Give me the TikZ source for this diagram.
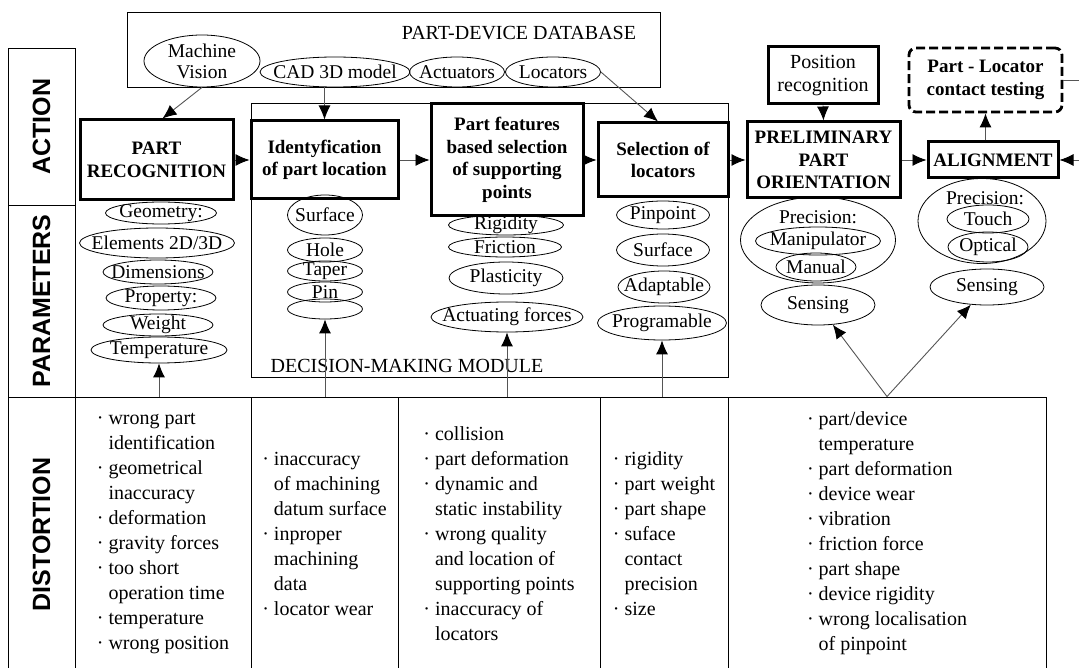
\documentclass[tikz,border=0pt]{standalone}
\usepackage{fontspec}
\setmainfont{Liberation Serif}
\newfontfamily\headfont{Liberation Sans}
\usepackage{tikz}
\usetikzlibrary{positioning, arrows.meta, shapes.geometric}
\definecolor{LineGray}{RGB}{85,85,85}
\newcommand{\dotbul}{\textperiodcentered\ }
\newcommand{\dotind}{\phantom{\textperiodcentered\ }}
\tikzstyle{rowlabel} = [rectangle, draw, line width=0.9pt, inner sep=0pt, rotate=90, font=\headfont\bfseries\fontsize{25}{28}\selectfont]
\tikzstyle{modbox} = [rectangle, draw, line width=0.9pt, inner sep=0pt]
\tikzstyle{plain} = [inner sep=0pt, font=\fontsize{20}{24}\selectfont]
\tikzstyle{action} = [rectangle, draw, line width=3pt, fill=white, inner sep=0pt, align=center, font=\bfseries\fontsize{19}{22.5}\selectfont]
\tikzstyle{testbox} = [rectangle, draw, rounded corners=7pt, line width=2.8pt, dash pattern=on 9pt off 4pt, fill=white, inner sep=0pt, align=center, font=\bfseries\fontsize{19}{22.5}\selectfont]
\tikzstyle{param} = [ellipse, draw, line width=0.8pt, inner sep=0pt]
\tikzstyle{ptxt} = [inner sep=0pt, align=center, font=\fontsize{19.5}{21}\selectfont]
\tikzstyle{cell} = [rectangle, draw, line width=0.9pt, inner sep=0pt, align=left, font=\fontsize{20}{25}\selectfont]
\tikzstyle{arrow} = [line width=0.9pt, LineGray, -{Latex[length=14pt, width=12pt, black]}]
\tikzstyle{link} = [line width=0.9pt, LineGray]

\begin{document}
\begin{tikzpicture}[x=1pt, y=-1pt]
    \useasboundingbox (0,0) rectangle (1079,668);

    % Row labels
    \node[rowlabel, minimum width=157, minimum height=67] (actlbl) at (41.5,126.5) {ACTION};
    \node[rowlabel, minimum width=192, minimum height=67] (parlbl) at (41.5,301) {PARAMETERS};
    \node[rowlabel, minimum width=275, minimum height=67] (dislbl) at (41.5,534.5) {DISTORTION};

    % Decision-making module
    \node[modbox, minimum width=477, minimum height=274] (dm) at (489.5,240) {};
    \node[plain] (dmtxt) at (407,366) {DECISION-MAKING MODULE};

    % Part-device database
    \node[modbox, minimum width=533, minimum height=75] (db) at (393.5,49.5) {};
    \node[plain] (dbtxt) at (519,33) {PART-DEVICE DATABASE};
    \node[param, minimum width=116, minimum height=52, label={[ptxt]center:Machine\\Vision}] (mv) at (202,61) {};
    \node[param, minimum width=150, minimum height=30, label={[ptxt]center:CAD 3D model}] (cad) at (335,72) {};
    \node[param, minimum width=95, minimum height=30, label={[ptxt]center:Actuators}] (actu) at (457,72) {};
    \node[param, minimum width=95, minimum height=30, label={[ptxt]center:Locators}] (loc) at (553,72) {};

    % Action boxes
    \node[action, minimum width=153, minimum height=80] (rec) at (156.5,160) {PART\\RECOGNITION};
    \node[action, minimum width=147, minimum height=78] (ident) at (324.5,160) {Identyfication\\of part location};
    \node[action, minimum width=152, minimum height=112] (feat) at (507,160) {Part features\\based selection\\of supporting\\points};
    \node[action, minimum width=130, minimum height=74] (sel) at (663,160) {Selection of\\locators};
    \node[action, minimum width=153, minimum height=76] (prel) at (823.5,160) {PRELIMINARY\\PART\\ORIENTATION};
    \node[action, minimum width=130, minimum height=36] (align) at (993,160) {ALIGNMENT};
    \node[action, minimum width=110, minimum height=57, font=\fontsize{20}{22.5}\selectfont] (pos) at (823,75.5) {Position\\recognition};
    \node[testbox, minimum width=153, minimum height=64] (test) at (985.5,80) {Part - Locator\\contact testing};

    % Parameters: geometry
    \node[param, minimum width=111, minimum height=22, label={[ptxt]center:{Geometry:}}] (geo) at (161,213) {};
    \node[param, minimum width=155, minimum height=30, label={[ptxt]center:Elements 2D/3D}] (elem) at (157,243) {};
    \node[param, minimum width=110, minimum height=24, label={[ptxt]center:Dimensions}] (dim) at (158,272) {};
    \node[param, minimum width=110, minimum height=24, label={[ptxt]center:{Property:}}] (prop) at (161,298) {};
    \node[param, minimum width=110, minimum height=22, label={[ptxt]center:Weight}] (wgt) at (158,325) {};
    \node[param, minimum width=136, minimum height=26, label={[ptxt]center:Temperature}] (temp) at (159,350) {};

    % Parameters: location
    \node[param, minimum width=75, minimum height=40, label={[ptxt]center:Surface}] (surf) at (325,215) {};
    \node[param, minimum width=75, minimum height=24, label={[ptxt]center:Hole}] (hole) at (325,250) {};
    \node[param, minimum width=75, minimum height=20, label={[ptxt]center:Taper}] (taper) at (325,271) {};
    \node[param, minimum width=75, minimum height=20, label={[ptxt]center:Pin}] (pin) at (325,292) {};
    \node[param, minimum width=75, minimum height=20] (blank) at (325,309) {};

    % Parameters: supporting points
    \node[param, minimum width=115, minimum height=20, label={[ptxt]center:Rigidity}] (rig) at (506,225) {};
    \node[param, minimum width=113, minimum height=20, label={[ptxt]center:Friction}] (fric) at (505,247) {};
    \node[param, minimum width=114, minimum height=32, label={[ptxt]center:Plasticity}] (plast) at (506,278) {};
    \node[param, minimum width=152, minimum height=30, label={[ptxt]center:Actuating forces}] (actf) at (507,317) {};

    % Parameters: locators
    \node[param, minimum width=93, minimum height=28, label={[ptxt]center:Pinpoint}] (pinp) at (663,215) {};
    \node[param, minimum width=93, minimum height=32, label={[ptxt]center:Surface}] (surfl) at (663,250) {};
    \node[param, minimum width=92, minimum height=32, label={[ptxt]center:Adaptable}] (adapt) at (664,287) {};
    \node[param, minimum width=129, minimum height=34, label={[ptxt]center:Programable}] (prog) at (662,323) {};

    % Parameters: orientation
    \node[param, minimum width=155, minimum height=86] (preca) at (818,240) {};
    \node[ptxt] (precatxt) at (818,217) {Precision:};
    \node[param, minimum width=125, minimum height=28, label={[ptxt]center:Manipulator}] (manip) at (818,241) {};
    \node[param, minimum width=80, minimum height=28, label={[ptxt]center:Manual}] (manual) at (816,267) {};
    \node[param, minimum width=114, minimum height=40, label={[ptxt]center:Sensing}] (sensa) at (818,305) {};

    % Parameters: alignment
    \node[param, minimum width=128, minimum height=85] (precb) at (982,221) {};
    \node[ptxt] (precbtxt) at (985,198) {Precision:};
    \node[param, minimum width=82, minimum height=28, label={[ptxt]center:Touch}] (touch) at (988,219) {};
    \node[param, minimum width=80, minimum height=30, label={[ptxt]center:Optical}] (opt) at (988,247) {};
    \node[param, minimum width=114, minimum height=36, label={[ptxt]center:Sensing}] (sensb) at (987,287) {};

    % Distortion cells
    \node[cell, minimum width=176, minimum height=273] (dc1) at (163,533.5) {\dotbul wrong part\\\dotind identification\\\dotbul geometrical\\\dotind inaccuracy\\\dotbul deformation\\\dotbul gravity forces\\\dotbul too short\\\dotind operation time\\\dotbul temperature\\\dotbul wrong position};
    \node[cell, minimum width=147, minimum height=273] (dc2) at (324.5,533.5) {\dotbul inaccuracy\\\dotind of machining\\\dotind datum surface\\\dotbul inproper\\\dotind machining\\\dotind data\\\dotbul locator wear};
    \node[cell, minimum width=202, minimum height=273] (dc3) at (499,533.5) {\dotbul collision\\\dotbul part deformation\\\dotbul dynamic and\\\dotind static instability\\\dotbul wrong quality\\\dotind and location of\\\dotind supporting points\\\dotbul inaccuracy of\\\dotind locators};
    \node[cell, minimum width=128, minimum height=273] (dc4) at (664,533.5) {\dotbul rigidity\\\dotbul part weight\\\dotbul part shape\\\dotbul suface\\\dotind contact\\\dotind precision\\\dotbul size};
    \node[cell, minimum width=318, minimum height=273] (dc5) at (887,533.5) {\dotbul part/device\\\dotind temperature\\\dotbul part deformation\\\dotbul device wear\\\dotbul vibration\\\dotbul friction force\\\dotbul part shape\\\dotbul device rigidity\\\dotbul wrong localisation\\\dotind of pinpoint};

    % Database to actions
    \draw[arrow] (mv.south) -- ([xshift=6pt]rec.north);
    \draw[arrow] (db.south -| ident.north) -- (ident.north);
    \draw[arrow] (loc.east) -- ([xshift=-5pt]sel.north);
    \draw[arrow] (pos.south) -- (prel.north);

    % Action chain
    \draw[arrow] (rec.east) -- (rec.east -| ident.west);
    \draw[arrow] (ident.east) -- (ident.east -| feat.west);
    \draw[arrow] (feat.east) -- (feat.east -| sel.west);
    \draw[arrow] (sel.east) -- (sel.east -| prel.west);
    \draw[arrow] (prel.east) -- (prel.east -| align.west);
    \draw[arrow] (test.south |- align.north) -- (test.south);
    \coordinate (rin) at (1079,160);
    \coordinate (rout) at (1079,80);
    \draw[arrow] (rin) -- (align.east);
    \draw[link] (test.east) -- (rout);

    % Distortion to parameters
    \draw[arrow] (temp.south |- dc1.north) -- (temp.south);
    \draw[arrow] (blank.south |- dc2.north) -- (blank.south);
    \draw[arrow] (actf.south |- dc3.north) -- (actf.south);
    \draw[arrow] (prog.south |- dc4.north) -- (prog.south);
    \draw[arrow] (dc5.north) -- (sensa);
    \draw[arrow] (dc5.north) -- (sensb);
\end{tikzpicture}
\end{document}
